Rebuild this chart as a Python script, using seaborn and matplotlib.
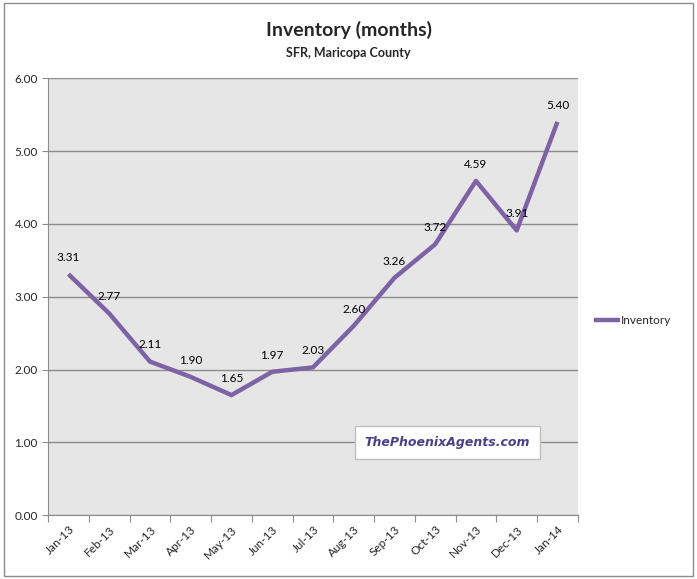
import matplotlib
matplotlib.use('Agg')
import matplotlib.pyplot as plt
import matplotlib.ticker as mticker
import seaborn as sns
import pandas as pd
import numpy as np

# dados
months = ['Jan-13', 'Feb-13', 'Mar-13', 'Apr-13', 'May-13', 'Jun-13', 'Jul-13',
          'Aug-13', 'Sep-13', 'Oct-13', 'Nov-13', 'Dec-13', 'Jan-14']
inventory = [3.31, 2.77, 2.11, 1.90, 1.65, 1.97, 2.03, 2.60, 3.26, 3.72, 4.59, 3.91, 5.40]
y_ticks = [0, 1, 2, 3, 4, 5, 6]

def main():
    sns.set_style('white')
    plt.rcParams['font.family'] = ['Lato', 'DejaVu Sans']

    df = pd.DataFrame({'pos': np.arange(len(months)), 'month': months, 'Inventory': inventory})

    fig = plt.figure(figsize=(6.97, 5.79), dpi=100)
    ax = fig.add_axes([0.069, 0.11, 0.76, 0.755])
    ax.set_facecolor('#E6E6E6')

    sns.lineplot(data=df, x='pos', y='Inventory', ax=ax, color='#7F62A6',
                 linewidth=3.2, label='Inventory', solid_capstyle='butt')

    # rotulos dos pontos
    for x, v in zip(df['pos'], df['Inventory']):
        ax.annotate(f'{v:.2f}', (x, v), xytext=(0, 8), textcoords='offset points',
                    ha='center', va='bottom', fontsize=8.5, color='black')

    ax.set_xlim(-0.5, len(months) - 0.5)
    ax.set_ylim(0, 6)
    ax.set_yticks(y_ticks)
    ax.yaxis.set_major_formatter(mticker.FormatStrFormatter('%.2f'))
    ax.yaxis.grid(True, color='#8C8C8C', linewidth=1)
    ax.set_axisbelow(True)

    ax.set_xticks(np.arange(-0.5, len(months)), labels=[''] * (len(months) + 1))
    ax.set_xticks(np.arange(len(months)), labels=months, minor=True)
    ax.tick_params(axis='x', which='major', length=5, color='#8C8C8C', direction='out', bottom=True)
    ax.tick_params(axis='x', which='minor', length=0, labelsize=8.5, pad=6)
    ax.tick_params(axis='y', length=4, color='#8C8C8C', direction='out', left=True, labelsize=8.5)
    for lab in ax.get_xticklabels(minor=True):
        lab.set_rotation(45)
        lab.set_ha('right')
        lab.set_rotation_mode('anchor')

    for side in ['top', 'right']:
        ax.spines[side].set_visible(False)
    for side in ['left', 'bottom']:
        ax.spines[side].set_color('#8C8C8C')
    ax.set_xlabel('')
    ax.set_ylabel('')

    ax.legend(loc='center left', bbox_to_anchor=(1.01, 0.446), frameon=False,
              fontsize=8.5, handlelength=2.2, handletextpad=0.1)

    fig.text(0.5, 0.948, 'Inventory (months)', ha='center', va='center',
             fontsize=14, fontweight='bold')
    fig.text(0.5, 0.908, 'SFR, Maricopa County', ha='center', va='center',
             fontsize=9, fontweight='bold')

    # marca d'agua
    ax.text(0.598, 0.166, 'ThePhoenixAgents.com', transform=ax.transAxes,
            fontsize=9, fontstyle='italic', fontweight='bold', color='#4B3F8C',
            family='DejaVu Sans', ha='left', va='center',
            bbox=dict(boxstyle='square,pad=0.8', facecolor='white', edgecolor='#BFBFBF'))

    # borda externa
    fig.patches.append(plt.Rectangle((0.006, 0.006), 0.988, 0.988, transform=fig.transFigure,
                                     fill=False, edgecolor='#8C8C8C', linewidth=1))

    plt.savefig('out.png', dpi=100)

if __name__ == "__main__":
    main()
